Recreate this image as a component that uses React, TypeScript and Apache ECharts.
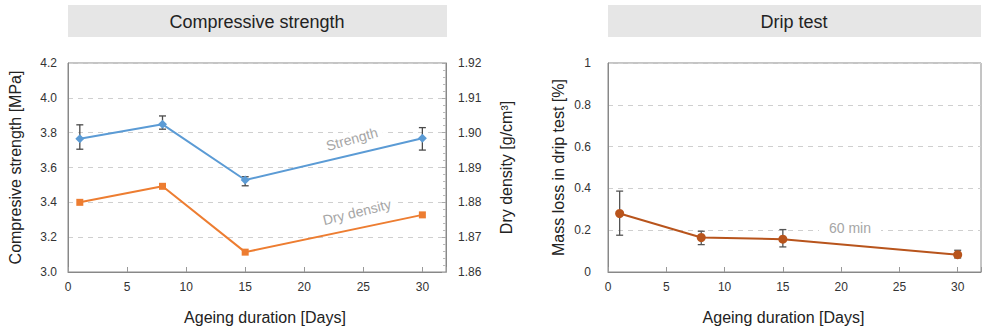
import React, { useEffect, useRef } from "react";
import * as echarts from "echarts";

const days = [1, 8, 15, 30];
const strength = [3.765, 3.848, 3.528, 3.768];
const strengthLow = [3.705, 3.82, 3.495, 3.7];
const strengthHigh = [3.845, 3.896, 3.547, 3.829];
const density = [1.88, 1.8846, 1.8657, 1.8764];
const dripLoss = [0.28, 0.165, 0.157, 0.083];
const dripLow = [0.176, 0.131, 0.12, 0.067];
const dripHigh = [0.387, 0.195, 0.203, 0.104];

const FONT = "Liberation Sans, Arial, sans-serif";

function errorBarSeries(name: string, xIdx: number, yIdx: number, low: number[], high: number[], color: string) {
  return {
    type: "custom",
    name,
    xAxisIndex: xIdx,
    yAxisIndex: yIdx,
    z: 1,
    encode: { x: 0, y: [1, 2] },
    data: days.map((d, i) => [d, low[i], high[i]]),
    renderItem: (params: any, api: any) => {
      const x = api.value(0);
      const lo = api.coord([x, api.value(1)]);
      const hi = api.coord([x, api.value(2)]);
      const w = 3.5;
      const style = { stroke: color, lineWidth: 1.3 };
      return {
        type: "group",
        children: [
          { type: "line", shape: { x1: lo[0], y1: lo[1], x2: hi[0], y2: hi[1] }, style },
          { type: "line", shape: { x1: lo[0] - w, y1: lo[1], x2: lo[0] + w, y2: lo[1] }, style },
          { type: "line", shape: { x1: hi[0] - w, y1: hi[1], x2: hi[0] + w, y2: hi[1] }, style },
        ],
      };
    },
  };
}

export default function App() {
  const ref = useRef<HTMLDivElement>(null);
  useEffect(() => {
    if (!ref.current) return;
    const chart = echarts.init(ref.current, undefined, { renderer: "svg" });
    const tickLabel = { color: "#333", fontSize: 12, fontFamily: FONT };
    const nameStyle = { color: "#222", fontSize: 16, fontFamily: FONT };
    const xAxisBase = {
      type: "value",
      min: 0,
      max: 32,
      interval: 5,
      name: "Ageing duration [Days]",
      nameLocation: "middle",
      nameGap: 37,
      axisLine: { show: true, lineStyle: { color: "#888" } },
      axisTick: { show: true, inside: true, length: 5, lineStyle: { color: "#999" } },
      axisLabel: { ...tickLabel, margin: 9, formatter: (v: number) => (v % 5 === 0 ? String(v) : "") },
      splitLine: { show: false },
    };
    const dashed = { show: true, lineStyle: { color: "#cfcfcf", type: [5, 5], width: 1 } };
    chart.setOption({
      animation: false,
      grid: [
        { left: 68, top: 63, width: 378, height: 209, show: true, borderColor: "#8a8a8a", borderWidth: 1 },
        { left: 608, top: 63, width: 373, height: 209, show: true, borderColor: "#8a8a8a", borderWidth: 1 },
      ],
      xAxis: [
        { ...xAxisBase, gridIndex: 0, nameTextStyle: { ...nameStyle, padding: [0, 0, 0, 16] } },
        { ...xAxisBase, gridIndex: 1, nameTextStyle: { ...nameStyle, padding: [0, 22, 0, 0] } },
      ],
      yAxis: [
        {
          type: "value",
          gridIndex: 0,
          position: "left",
          min: 3.0,
          max: 4.2,
          interval: 0.2,
          name: "Compresive strength [MPa]",
          nameLocation: "middle",
          nameRotate: 90,
          nameGap: 45,
          nameTextStyle: nameStyle,
          axisLine: { show: true, lineStyle: { color: "#888" } },
          axisTick: { show: false },
          axisLabel: { ...tickLabel, margin: 11, formatter: (v: number) => v.toFixed(1) },
          splitLine: dashed,
        },
        {
          type: "value",
          gridIndex: 0,
          position: "right",
          min: 1.86,
          max: 1.92,
          interval: 0.01,
          name: "Dry density [g/cm³]",
          nameLocation: "middle",
          nameRotate: 90,
          nameGap: 52,
          nameTextStyle: nameStyle,
          axisLine: { show: true, lineStyle: { color: "#888" } },
          axisTick: { show: true, inside: true, length: 4, lineStyle: { color: "#aaa" } },
          minorTick: { show: true, splitNumber: 5, length: 3, lineStyle: { color: "#bbb" } },
          axisLabel: { ...tickLabel, margin: 12, formatter: (v: number) => v.toFixed(2) },
          splitLine: { show: false },
        },
        {
          type: "value",
          gridIndex: 1,
          position: "left",
          min: 0,
          max: 1,
          interval: 0.2,
          name: "Mass loss in drip test [%]",
          nameLocation: "middle",
          nameRotate: 90,
          nameGap: 42,
          nameTextStyle: nameStyle,
          axisLine: { show: true, lineStyle: { color: "#888" } },
          axisTick: { show: false },
          axisLabel: { ...tickLabel, margin: 17, formatter: (v: number) => (v === 0 || v === 1 ? String(v) : v.toFixed(1)) },
          splitLine: dashed,
        },
      ],
      series: [
        errorBarSeries("Strength error", 0, 0, strengthLow, strengthHigh, "#4a4a4a"),
        {
          type: "line",
          name: "Strength",
          xAxisIndex: 0,
          yAxisIndex: 0,
          data: days.map((d, i) => [d, strength[i]]),
          symbol: "diamond",
          symbolSize: 9,
          lineStyle: { color: "#5b9bd5", width: 2 },
          itemStyle: { color: "#5b9bd5" },
          z: 3,
        },
        {
          type: "line",
          name: "Dry density",
          xAxisIndex: 0,
          yAxisIndex: 1,
          data: days.map((d, i) => [d, density[i]]),
          symbol: "rect",
          symbolSize: 7,
          lineStyle: { color: "#ed7d31", width: 2 },
          itemStyle: { color: "#ed7d31" },
          z: 3,
        },
        errorBarSeries("Drip error", 1, 2, dripLow, dripHigh, "#555555"),
        {
          type: "line",
          name: "Drip test",
          xAxisIndex: 1,
          yAxisIndex: 2,
          data: days.map((d, i) => [d, dripLoss[i]]),
          symbol: "circle",
          symbolSize: 9,
          lineStyle: { color: "#b8541c", width: 2 },
          itemStyle: { color: "#b8541c" },
          z: 3,
        },
      ],
      graphic: [
        { type: "rect", shape: { x: 68, y: 5, width: 379, height: 32 }, style: { fill: "#e6e6e6" }, z: 0 },
        { type: "rect", shape: { x: 608, y: 5, width: 373, height: 32 }, style: { fill: "#e6e6e6" }, z: 0 },
        {
          type: "text",
          x: 257,
          y: 22,
          z: 1,
          style: { text: "Compressive strength", fill: "#222", fontSize: 18, fontFamily: FONT, align: "center", verticalAlign: "middle" },
        },
        {
          type: "text",
          x: 794,
          y: 22,
          z: 1,
          style: { text: "Drip test", fill: "#222", fontSize: 18, fontFamily: FONT, align: "center", verticalAlign: "middle" },
        },
        {
          type: "text",
          x: 352,
          y: 139,
          rotation: 0.27,
          z: 5,
          style: { text: "Strength", fill: "#a6a6a6", fontSize: 14, fontFamily: FONT, align: "center", verticalAlign: "middle", backgroundColor: "#fff", padding: [0, 5] },
        },
        {
          type: "text",
          x: 357,
          y: 212,
          rotation: 0.24,
          z: 5,
          style: { text: "Dry density", fill: "#a6a6a6", fontSize: 14, fontFamily: FONT, align: "center", verticalAlign: "middle", backgroundColor: "#fff", padding: [0, 5] },
        },
        {
          type: "text",
          x: 850,
          y: 228,
          z: 5,
          style: { text: "60 min", fill: "#a6a6a6", fontSize: 14, fontFamily: FONT, align: "center", verticalAlign: "middle", backgroundColor: "#fff", padding: [0, 10] },
        },
      ],
    });
    return () => chart.dispose();
  }, []);
  return <div ref={ref} style={{ position: "fixed", left: 0, top: 0, width: 984, height: 330, background: "#fff" }} />;
}
